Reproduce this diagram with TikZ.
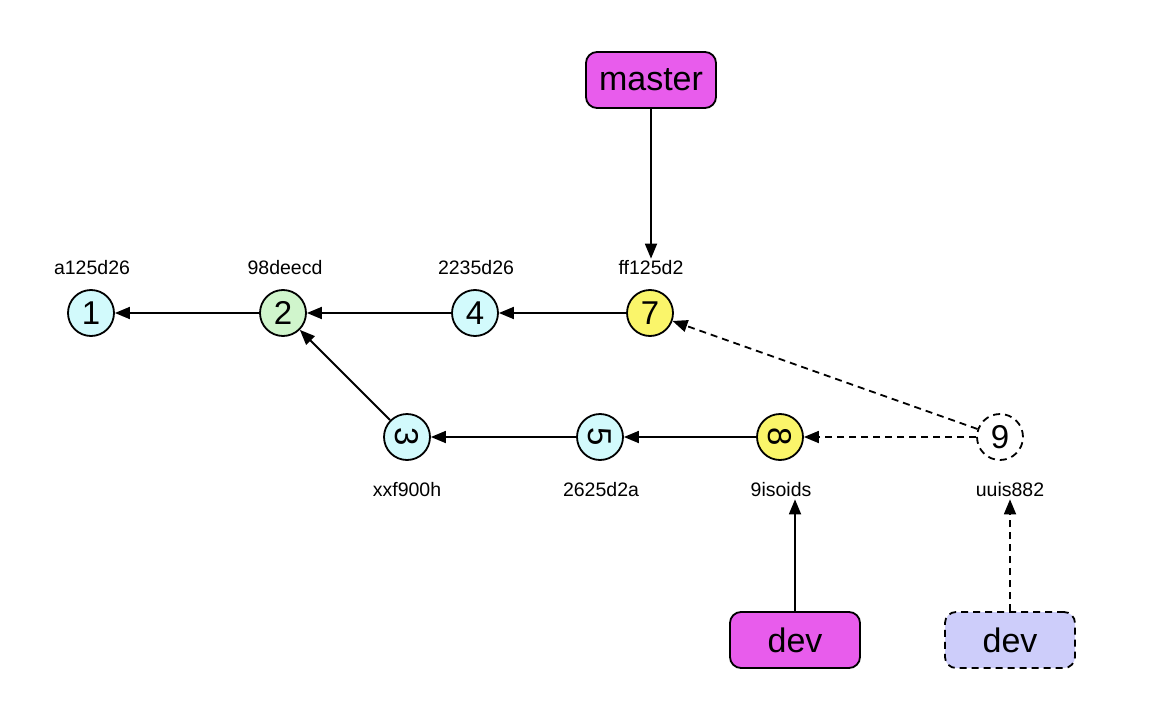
\documentclass[tikz,border=0pt]{standalone}
\usepackage{fontspec}
\setmainfont{Liberation Sans}
\usetikzlibrary{arrows.meta}
\definecolor{cyanfill}{HTML}{D2FAFC}
\definecolor{greenfill}{HTML}{D0F5CC}
\definecolor{yellowfill}{HTML}{FAF56A}
\definecolor{magfill}{HTML}{E85CEC}
\definecolor{lavfill}{HTML}{CDCDFA}
\tikzset{
  commit/.style={circle, draw, line width=1.8pt, minimum size=46pt, inner sep=0pt, font=\fontsize{33}{33}\selectfont},
  hashlbl/.style={font=\fontsize{19.5}{19.5}\selectfont, inner sep=2pt},
  branch/.style={draw, line width=1.8pt, rounded corners=11pt, minimum width=130pt, minimum height=56pt, font=\fontsize{34}{34}\selectfont},
  link/.style={line width=1.8pt, -{Triangle[length=15pt,width=12pt]}},
  dashy/.style={dashed, dash pattern=on 7pt off 5pt},
}
\begin{document}
\begin{tikzpicture}[x=1pt,y=-1pt]
\useasboundingbox (0,0) rectangle (1162,701);
\node[commit, fill=cyanfill] (c1) at (91,313) {1};
\node[commit, fill=greenfill] (c2) at (283,313) {2};
\node[commit, fill=cyanfill] (c4) at (475,313) {4};
\node[commit, fill=yellowfill] (c7) at (650,313) {7};
\node[commit, fill=cyanfill] (c3) at (407,437) {\rotatebox{-90}{3}};
\node[commit, fill=cyanfill] (c5) at (600,437) {\rotatebox{-90}{5}};
\node[commit, fill=yellowfill] (c8) at (780,437) {\rotatebox{-90}{8}};
\node[commit, dashy] (c9) at (1000,437) {9};

\node[hashlbl] (l1) at (92,268) {a125d26};
\node[hashlbl] (l2) at (285,268) {98deecd};
\node[hashlbl] (l4) at (476,268) {2235d26};
\node[hashlbl] (l7) at (651,268) {ff125d2};
\node[hashlbl] (l3) at (407,490) {xxf900h};
\node[hashlbl] (l5) at (601,490) {2625d2a};
\node[hashlbl] (l8) at (781,490) {9isoids};
\node[hashlbl] (l9) at (1010,490) {uuis882};

\node[branch, fill=magfill] (master) at (651,80) {master};
\node[branch, fill=magfill] (dev) at (795,640) {dev};
\node[branch, fill=lavfill, dashy] (dev2) at (1010,640) {dev};

\draw[link] (c2) -- (c1);
\draw[link] (c4) -- (c2);
\draw[link] (c7) -- (c4);
\draw[link] (c3) -- (c2);
\draw[link] (c5) -- (c3);
\draw[link] (c8) -- (c5);
\draw[link, dashy] (c9) -- (c8);
\draw[link, dashy] (c9) -- (c7);
\draw[link] (master) -- (l7);
\draw[link] (dev) -- (dev |- l8.south);
\draw[link, dashy] (dev2) -- (dev2 |- l9.south);
\end{tikzpicture}
\end{document}
